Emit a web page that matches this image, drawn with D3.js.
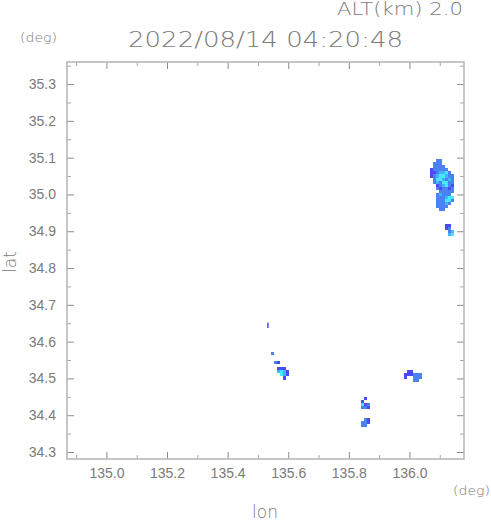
<!DOCTYPE html>
<html>
<head>
<meta charset="utf-8">
<script src="https://cdn.jsdelivr.net/npm/d3@7"></script>
<style>
  body { margin: 0; background: #fff; }
  svg { display: block; font-family: "DejaVu Sans", sans-serif; font-weight: 200; }
  .lbl { fill: #7a7a7a; }
  .tick text { fill: #7a7a7a; font-size: 14px; }
  .tick line { stroke: #8c8c8c; }
  .minor .tick line { stroke: #a8a8a8; }
</style>
</head>
<body>
<svg width="491" height="521"></svg>
<script>
// header texts
var altLabel = "ALT(km) 2.0";
var timeLabel = "2022/08/14 04:20:48";

// axis ranges / ticks (deg)
var lonRange = [134.87, 136.18];
var latRange = [34.281, 35.36];
var lonMajor = [135.0, 135.2, 135.4, 135.6, 135.8, 136.0];
var lonMinor = [134.9, 135.1, 135.3, 135.5, 135.7, 135.9, 136.1];
var latMajor = [34.3, 34.4, 34.5, 34.6, 34.7, 34.8, 34.9, 35.0, 35.1, 35.2, 35.3];
var latMinor = [34.35, 34.45, 34.55, 34.65, 34.75, 34.85, 34.95, 35.05, 35.15, 35.25, 35.35];

// radar cells: grid size in deg
var dLon = 0.01, dLat = 1 / 120;
// level colours 1..4
var levels = ["1", "2", "3", "4"];
var levelColors = ["#4b4bf5", "#4a82f2", "#40b4ff", "#44e8ff"];

// echo cells, one string per grid row (north to south)
// '.' = no echo, digit = intensity level
var cellsNE = { lon0: 136.068, lat0: 35.096, rows: [
  "..22.....",
  ".222.....",
  ".2222....",
  "122222...",
  "1123342..",
  "12344322.",
  ".2443232.",
  ".2324422.",
  "..123421.",
  "..212212.",
  "...22222.",
  "..23222..",
  "..222344.",
  "..222442.",
  "..22232..",
  "..2222...",
  "...22....",
  ".........",
  ".........",
  ".........",
  ".........",
  ".....11..",
  ".....12..",
  "......23.",
  "......34."
]};
var cellsW = { lon0: 135.543, lat0: 34.572, rows: [
  "2.....",
  "......",
  "......",
  ".21...",
  "......",
  "..111.",
  "..3431",
  "...431",
  "....1."
]};
var cellsE = { lon0: 135.982, lat0: 34.523, rows: [
  ".11...",
  "111222",
  "1..222",
  "...22."
]};
var cellsS = { lon0: 135.830, lat0: 34.450, rows: [
  "..1.",
  ".1..",
  ".412",
  ".221",
  "....",
  "....",
  "....",
  "..21",
  ".221",
  ".22."
]};
var echoGrids = [cellsNE, cellsW, cellsE, cellsS];
// single thin echo line [lon, latTop, latBottom]
var thinEchoes = [[135.533, 34.651, 34.637]];

var svg = d3.select("svg");
var margin = {left: 67, top: 62},
    plotW = 397, plotH = 397;

var x = d3.scaleLinear().domain(lonRange).range([margin.left, margin.left + plotW]);
var y = d3.scaleLinear().domain(latRange).range([margin.top + plotH, margin.top]);
var color = d3.scaleOrdinal().domain(levels).range(levelColors);

// flatten the grids into cell objects
var cells = [];
echoGrids.forEach(function(g) {
  g.rows.forEach(function(row, r) {
    row.split("").forEach(function(ch, c) {
      if (ch != ".") {
        cells.push({lon: g.lon0 + c * dLon, lat: g.lat0 - r * dLat, v: ch});
      }
    });
  });
});

svg.append("g")
  .attr("shape-rendering", "crispEdges")
  .selectAll("rect")
  .data(cells)
  .enter().append("rect")
  .attr("x", function(d) { return x(d.lon); })
  .attr("y", function(d) { return y(d.lat); })
  .attr("width", function(d) { return x(d.lon + dLon) - x(d.lon); })
  .attr("height", function(d) { return y(d.lat - dLat) - y(d.lat); })
  .attr("fill", function(d) { return color(d.v); });

svg.append("g").selectAll("line")
  .data(thinEchoes)
  .enter().append("line")
  .attr("x1", function(d) { return x(d[0]); })
  .attr("x2", function(d) { return x(d[0]); })
  .attr("y1", function(d) { return y(d[1]); })
  .attr("y2", function(d) { return y(d[2]); })
  .attr("stroke", levelColors[0])
  .attr("stroke-width", 1.5);

//////////// AXES ////////////
var fmt = d3.format(".1f");

function addAxis(axis, tx, ty, cls) {
  var g = svg.append("g")
    .attr("class", cls || "")
    .attr("transform", "translate(" + tx + "," + ty + ")")
    .call(axis);
  g.select(".domain").remove();
  return g;
}

var yBottom = y.range()[0], yTop = y.range()[1], xLeft = x.range()[0], xRight = x.range()[1];

// major ticks, pointing inward
addAxis(d3.axisBottom(x).tickValues(lonMajor).tickFormat(fmt).tickSizeInner(-7).tickSizeOuter(0).tickPadding(9), 0, yBottom);
addAxis(d3.axisTop(x).tickValues(lonMajor).tickFormat("").tickSizeInner(-7).tickSizeOuter(0), 0, yTop);
addAxis(d3.axisLeft(y).tickValues(latMajor).tickFormat(fmt).tickSizeInner(-7).tickSizeOuter(0).tickPadding(11), xLeft, 0);
addAxis(d3.axisRight(y).tickValues(latMajor).tickFormat("").tickSizeInner(-7).tickSizeOuter(0), xRight, 0);
// minor ticks
addAxis(d3.axisBottom(x).tickValues(lonMinor).tickFormat("").tickSizeInner(-4).tickSizeOuter(0), 0, yBottom, "minor");
addAxis(d3.axisTop(x).tickValues(lonMinor).tickFormat("").tickSizeInner(-4).tickSizeOuter(0), 0, yTop, "minor");
addAxis(d3.axisLeft(y).tickValues(latMinor).tickFormat("").tickSizeInner(-4).tickSizeOuter(0), xLeft, 0, "minor");
addAxis(d3.axisRight(y).tickValues(latMinor).tickFormat("").tickSizeInner(-4).tickSizeOuter(0), xRight, 0, "minor");

svg.selectAll(".tick text").attr("font-family", null);

// frame
svg.append("rect")
  .attr("x", xLeft).attr("y", yTop)
  .attr("width", xRight - xLeft).attr("height", yBottom - yTop)
  .attr("fill", "none")
  .attr("stroke", "#b4b4b4")
  .attr("stroke-width", 1.5);

//////////// LABELS ////////////
function addText(txt, tx, ty, size, len) {
  return svg.append("text")
    .attr("class", "lbl")
    .attr("x", tx).attr("y", ty)
    .attr("font-size", size)
    .attr("textLength", len)
    .attr("lengthAdjust", "spacingAndGlyphs")
    .text(txt);
}

addText(altLabel, 337, 15, 17, 126);
addText(timeLabel, 128, 47, 21, 275);
addText("(deg)", 20, 42, 13, 37);
addText("(deg)", 453, 495, 13, 37);
addText("lon", 252, 518, 18, 26);
svg.append("text")
  .attr("class", "lbl")
  .attr("transform", "translate(16,262) rotate(-90)")
  .attr("text-anchor", "middle")
  .attr("font-size", 17)
  .text("lat");
</script>
</body>
</html>
